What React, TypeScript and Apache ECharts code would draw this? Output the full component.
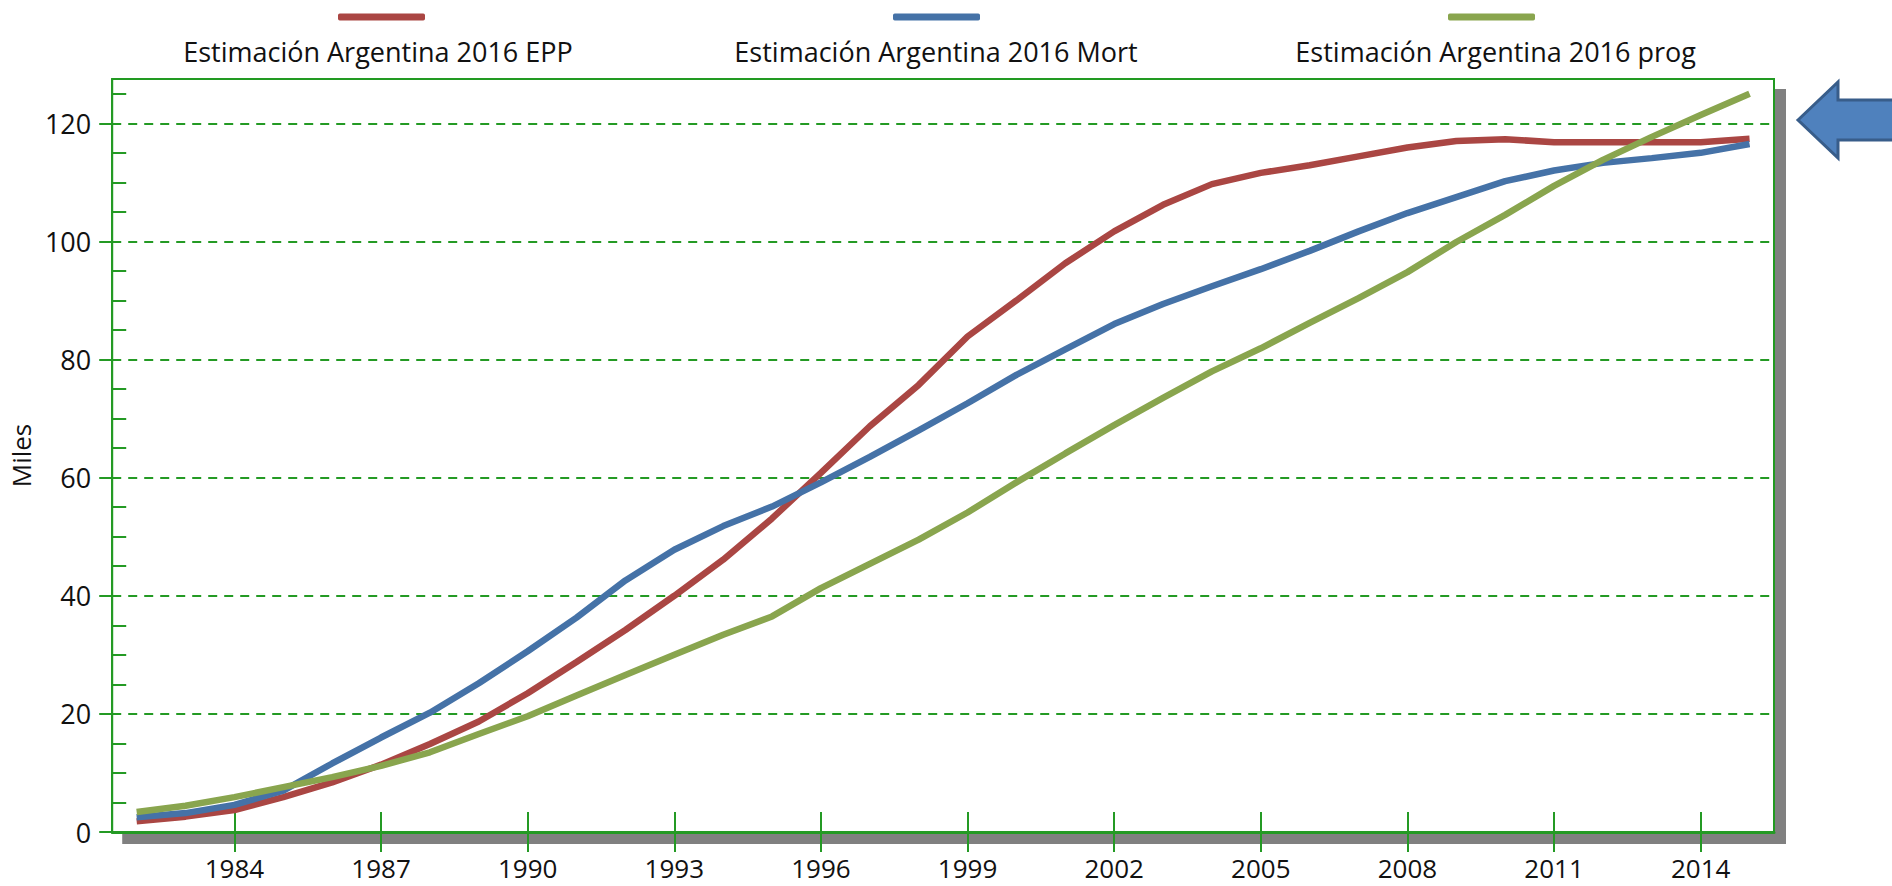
import React, { useEffect, useRef } from "react";
import * as echarts from "echarts";

const YEARS = [
  "1982", "1983", "1984", "1985", "1986", "1987", "1988", "1989", "1990", "1991",
  "1992", "1993", "1994", "1995", "1996", "1997", "1998", "1999", "2000", "2001",
  "2002", "2003", "2004", "2005", "2006", "2007", "2008", "2009", "2010", "2011",
  "2012", "2013", "2014", "2015",
];

const SERIES_NAMES = [
  "Estimación Argentina 2016 EPP",
  "Estimación Argentina 2016 Mort",
  "Estimación Argentina 2016 prog",
];

const EPP = [
  1.8, 2.6, 3.7, 5.9, 8.4, 11.4, 14.9, 18.7, 23.5, 28.8,
  34.2, 40.0, 46.1, 53.1, 60.8, 68.7, 75.7, 83.9, 90.0, 96.3,
  101.7, 106.2, 109.7, 111.6, 112.9, 114.4, 115.9, 117.0, 117.3, 116.8,
  116.8, 116.8, 116.8, 117.4,
];

const MORT = [
  2.5, 3.2, 4.6, 7.0, 11.6, 16.0, 20.2, 25.2, 30.6, 36.3,
  42.6, 47.8, 51.8, 55.1, 59.2, 63.5, 68.0, 72.6, 77.4, 81.7,
  86.0, 89.4, 92.4, 95.3, 98.4, 101.7, 104.8, 107.5, 110.2, 112.0,
  113.3, 114.1, 115.0, 116.5,
];

const PROG = [
  3.4, 4.45, 5.9, 7.6, 9.3, 11.2, 13.5, 16.6, 19.6, 23.1,
  26.6, 30.0, 33.4, 36.5, 41.3, 45.4, 49.5, 54.1, 59.2, 64.1,
  68.9, 73.5, 78.0, 81.9, 86.2, 90.4, 94.8, 99.9, 104.5, 109.4,
  113.8, 117.7, 121.4, 125.0,
];

const Y_MAJOR = [0, 20, 40, 60, 80, 100, 120];
const Y_MINOR = [5, 10, 15, 25, 30, 35, 45, 50, 55, 65, 70, 75, 85, 90, 95, 105, 110, 115, 125];
const Y_MAX = 127.5;
const FIRST_LABEL_YEAR = 1984;
const LABEL_STEP = 3;

const COLORS = ["#AA4643", "#4572A7", "#89A54E"];
const GREEN = "#249a24";
const FONT = "'Open Sans', 'Noto Sans', sans-serif";
const TEXT = "#111111";

export default function App() {
  const ref = useRef<HTMLDivElement>(null);

  useEffect(() => {
    if (!ref.current) return;
    const chart = echarts.init(ref.current, undefined, { renderer: "svg" });

    const showYear = (_i: number, v: string) => (Number(v) - FIRST_LABEL_YEAR) % LABEL_STEP === 0;
    const iconLefts = [338, 893, 1448];

    const iconLegends = SERIES_NAMES.map((name, i) => ({
      data: [name],
      left: iconLefts[i],
      top: 13.5,
      padding: 0,
      icon: "roundRect",
      itemWidth: 87,
      itemHeight: 7,
      selectedMode: false,
      formatter: () => "",
      itemStyle: { borderWidth: 0 },
      textStyle: { fontSize: 1, lineHeight: 1 },
    }));

    const option: any = {
      animation: false,
      backgroundColor: "#ffffff",
      textStyle: { fontFamily: FONT },
      legend: [
        ...iconLegends,
        {
          data: SERIES_NAMES,
          left: 172,
          top: 38,
          padding: 0,
          itemGap: 152,
          itemWidth: 0,
          itemHeight: 0,
          selectedMode: false,
          itemStyle: { opacity: 0, borderWidth: 0 },
          formatter: (name: string) => `{t|${name}}`,
          textStyle: {
            fontFamily: FONT,
            fontSize: 27,
            color: TEXT,
            rich: {
              t: {
                width: 400,
                align: "center",
                fontFamily: FONT,
                fontSize: 27,
                lineHeight: 36,
                color: TEXT,
              },
            },
          },
        },
      ],
      grid: {
        show: true,
        left: 103,
        right: 118,
        top: 79,
        bottom: 54,
        backgroundColor: "#ffffff",
        borderColor: GREEN,
        borderWidth: 2,
        shadowColor: "#808080",
        shadowBlur: 0,
        shadowOffsetX: 11,
        shadowOffsetY: 11,
        containLabel: false,
      },
      xAxis: [
        {
          type: "category",
          data: YEARS,
          boundaryGap: true,
          position: "bottom",
          axisLine: { show: true, lineStyle: { color: GREEN, width: 3 } },
          axisTick: {
            show: true,
            alignWithLabel: true,
            interval: showYear,
            length: 20,
            lineStyle: { color: GREEN, width: 2 },
          },
          axisLabel: {
            show: true,
            interval: showYear,
            margin: 23,
            fontFamily: FONT,
            fontSize: 26,
            lineHeight: 26,
            color: TEXT,
          },
          splitLine: { show: false },
        },
        {
          type: "category",
          data: YEARS,
          boundaryGap: true,
          position: "bottom",
          axisLine: { show: false },
          axisTick: {
            show: true,
            inside: true,
            alignWithLabel: true,
            interval: showYear,
            length: 20,
            lineStyle: { color: GREEN, width: 2 },
          },
          axisLabel: { show: false },
          splitLine: { show: false },
        },
      ],
      yAxis: [
        {
          type: "value",
          min: 0,
          max: Y_MAX,
          interval: 20,
          position: "left",
          name: "Miles",
          nameLocation: "middle",
          nameGap: 74,
          nameTextStyle: { fontFamily: FONT, fontSize: 26, color: TEXT },
          axisLine: { show: true, lineStyle: { color: GREEN, width: 2 } },
          axisTick: {
            show: true,
            length: 13,
            customValues: Y_MAJOR,
            lineStyle: { color: GREEN, width: 2 },
          },
          axisLabel: {
            show: true,
            customValues: Y_MAJOR,
            margin: 21,
            fontFamily: FONT,
            fontSize: 27,
            color: TEXT,
          },
          splitLine: {
            show: true,
            lineStyle: { color: GREEN, width: 2, type: [9, 7] },
          },
        },
        {
          type: "value",
          min: 0,
          max: Y_MAX,
          interval: 20,
          position: "left",
          axisLine: { show: false },
          axisTick: {
            show: true,
            inside: true,
            length: 14,
            customValues: Y_MINOR,
            lineStyle: { color: GREEN, width: 2 },
          },
          axisLabel: { show: false },
          splitLine: { show: false },
        },
      ],
      series: [EPP, MORT, PROG].map((d, i) => ({
        name: SERIES_NAMES[i],
        type: "line",
        data: d,
        xAxisIndex: 0,
        yAxisIndex: 0,
        showSymbol: false,
        symbol: "none",
        smooth: false,
        color: COLORS[i],
        lineStyle: { color: COLORS[i], width: 6.5 },
        z: 3 + i,
      })),
      graphic: [
        {
          type: "polygon",
          shape: {
            points: [
              [1798, 120],
              [1838, 82],
              [1838, 100],
              [1896, 100],
              [1896, 140],
              [1838, 140],
              [1838, 158],
            ],
          },
          style: { fill: "#4F81BD", stroke: "#385D8A", lineWidth: 3 },
          z: 10,
        },
      ],
    };

    chart.setOption(option);
    return () => chart.dispose();
  }, []);

  return (
    <div
      ref={ref}
      style={{ position: "absolute", left: 0, top: 0, width: 1892, height: 886 }}
    />
  );
}
